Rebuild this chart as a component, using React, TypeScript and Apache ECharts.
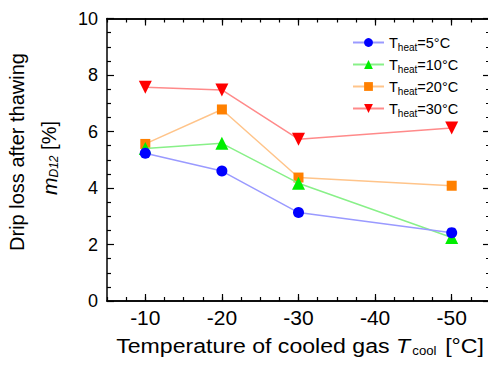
import React, { useEffect, useRef } from "react";
import * as echarts from "echarts";

const xValues = [-10, -20, -30, -50];
const xTicks = [-10, -20, -30, -40, -50];
const heatTemps = [5, 10, 20, 30];
const s5 = [5.23, 4.6, 3.13, 2.42];
const s10 = [5.4, 5.58, 4.17, 2.25];
const s20 = [5.56, 6.78, 4.37, 4.08];
const s30 = [7.57, 7.47, 5.73, 6.12];
const seriesValues = [s5, s10, s20, s30];
const yTicks = [0, 2, 4, 6, 8, 10];

const FONT = '"Liberation Sans", Arial, sans-serif';
const markerColors = ["#0000ff", "#00ee00", "#ff8000", "#ff0000"];
const lineColors = ["#9a9aff", "#88f088", "#ffc48a", "#ff8a8a"];
const symbols = ["circle", "triangle", "rect", "triangle"];
const symbolSizes = [11, 13, 10, 13];
const symbolRotates = [0, 0, 0, 180];

export default function App() {
  const ref = useRef<HTMLDivElement>(null);
  useEffect(() => {
    if (!ref.current) return;
    const chart = echarts.init(ref.current, null, { renderer: "svg" });
    const names = heatTemps.map((t) => `T_heat=${t}°C`);
    const grid = { left: 107, top: 18.5, width: 383, height: 282.5, outerBoundsMode: "none" };
    const black = "#000";
    const mkX = (position: string, major: boolean) => ({
      type: "value",
      position,
      min: -55,
      max: -5,
      interval: 2.5,
      inverse: true,
      axisLine: { show: true, onZero: false, lineStyle: { color: black, width: 1.5 } },
      axisTick: major
        ? { show: true, inside: true, length: 7, customValues: xTicks, lineStyle: { color: black, width: 1.2 } }
        : { show: true, inside: true, length: 4, lineStyle: { color: black, width: 1.2 } },
      axisLabel: major && position === "bottom"
        ? { show: true, customValues: xTicks, color: black, fontSize: 21, fontFamily: FONT, margin: 6 }
        : { show: false },
      splitLine: { show: false },
    });
    const mkY = (position: string, labels: boolean) => ({
      type: "value",
      position,
      min: yTicks[0],
      max: yTicks[yTicks.length - 1],
      interval: yTicks[1] - yTicks[0],
      axisLine: { show: true, onZero: false, lineStyle: { color: black, width: 1.5 } },
      axisTick: { show: true, inside: true, length: 7, lineStyle: { color: black, width: 1.2 } },
      minorTick: { show: true, splitNumber: 4, length: 4, lineStyle: { color: black, width: 1.2 } },
      axisLabel: { show: labels, color: black, fontSize: 18, fontFamily: FONT, margin: 9 },
      splitLine: { show: false },
      minorSplitLine: { show: false },
    });
    const option: any = {
      animation: false,
      backgroundColor: "#fff",
      grid,
      xAxis: [mkX("bottom", true), mkX("bottom", false), mkX("top", true), mkX("top", false)],
      yAxis: [mkY("left", true), mkY("right", false)],
      legend: names.map((n, i) => ({
        data: [n],
        left: 352,
        top: 35 + i * 22,
        padding: 0,
        itemWidth: 31,
        itemHeight: 11,
        formatter: () => `{t|T}{s|heat}{t|=${heatTemps[i]}°C}`,
        textStyle: {
          color: black,
          rich: {
            t: { fontSize: 14.5, fontFamily: FONT, color: black, lineHeight: 20 },
            s: { fontSize: 10, fontFamily: FONT, color: black, lineHeight: 10, verticalAlign: "bottom" },
          },
        },
      })),
      series: seriesValues.map((vals, i) => ({
        name: names[i],
        type: "line",
        xAxisIndex: 0,
        yAxisIndex: 0,
        data: xValues.map((x, j) => [x, vals[j]]),
        symbol: symbols[i],
        symbolSize: symbolSizes[i],
        symbolRotate: symbolRotates[i],
        showAllSymbol: true,
        itemStyle: { color: markerColors[i], borderWidth: 0 },
        lineStyle: { color: lineColors[i], width: 1.5 },
        z: 10 - i,
      })),
      graphic: [
        {
          type: "text",
          x: 17,
          y: 152,
          rotation: Math.PI / 2,
          style: {
            text: "Drip loss after thawing",
            font: `20px ${FONT}`,
            fill: black,
            align: "center",
            verticalAlign: "middle",
          },
        },
        {
          type: "text",
          x: 49,
          y: 158,
          rotation: Math.PI / 2,
          style: {
            text: "{i|m}{s|D12}{n| [%]}",
            fill: black,
            align: "center",
            verticalAlign: "middle",
            rich: {
              i: { fontSize: 21, fontFamily: FONT, fontStyle: "italic", lineHeight: 22 },
              s: { fontSize: 12, fontFamily: FONT, fontStyle: "italic", lineHeight: 12, verticalAlign: "bottom" },
              n: { fontSize: 20, fontFamily: FONT, lineHeight: 22 },
            },
          },
        },
        {
          type: "text",
          x: 300,
          y: 346,
          scaleX: 1.1,
          style: {
            text: "{n|Temperature of cooled gas }{i|T}{s|cool}{n| [°C]}",
            fill: black,
            align: "center",
            verticalAlign: "middle",
            rich: {
              n: { fontSize: 21, fontFamily: FONT, lineHeight: 22 },
              i: { fontSize: 21, fontFamily: FONT, fontStyle: "italic", lineHeight: 22 },
              s: { fontSize: 12, fontFamily: FONT, lineHeight: 10, verticalAlign: "bottom", padding: [0, 2, 0, 2] },
            },
          },
        },
      ],
    };
    chart.setOption(option);
    return () => chart.dispose();
  }, []);
  return (
    <div
      ref={ref}
      style={{ position: "fixed", left: 0, top: 0, width: 488, height: 367, background: "#fff" }}
    />
  );
}
